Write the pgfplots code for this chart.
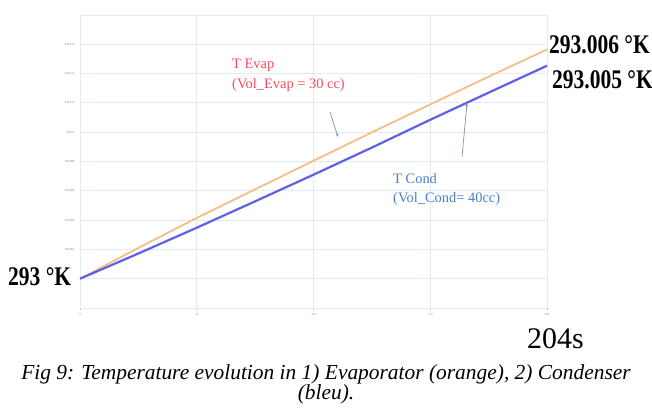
\documentclass[border=0pt]{standalone}
\usepackage{fontspec}
\setmainfont{Liberation Serif}
\usepackage{pgfplots}
\pgfplotsset{compat=1.18}
\usetikzlibrary{arrows.meta}
\definecolor{evap}{RGB}{244,190,135}
\definecolor{cond}{RGB}{95,95,232}
\definecolor{gridc}{RGB}{226,234,244}
\definecolor{evaptxt}{RGB}{250,75,95}
\definecolor{condtxt}{RGB}{70,130,205}
\definecolor{arrowc}{RGB}{125,145,175}

% y values are offsets from 293 K, in mK
\pgfplotstableread{
t     dT
0     0
25.5  2.10
51    4.15
76.5  6.10
102   8.05
127.5 9.99
153   11.90
178.5 13.79
204   15.65
}\evaptable
\pgfplotstableread{
t     dT
0     0
25.5  1.72
51    3.48
76.5  5.28
102   7.10
127.5 8.95
153   10.85
178.5 12.70
204   14.54
}\condtable

\begin{document}
\begin{tikzpicture}[x=1bp,y=1bp]
\path[use as bounding box] (0,0) rectangle (652,409);
\begin{axis}[
  at={(80bp,101bp)}, anchor=south west,
  scale only axis, width=467bp, height=293bp,
  xmin=0, xmax=204, ymin=-2, ymax=18,
  xtick={0,51,102,153,204},
  xticklabels={0,51,102,153,204},
  ytick={-2,0,2,4,6,8,10,12,14,16,18},
  yticklabels={,,293.002,293.004,293.006,293.008,293.01,293.012,293.014,293.016,},
  grid=major,
  grid style={draw=gridc, line width=0.9bp},
  axis line style={draw=gridc, line width=0.9bp},
  axis x line*=bottom, axis y line*=left,
  tick align=outside,
  major tick length=2bp,
  xtick style={draw=gray!60, line width=0.4bp},
  ytick style={draw=none},
  tick label style={font=\fontsize{3}{3}\selectfont, text=gray},
  clip=false,
]
\addplot[color=evap, line width=1.8bp] table[x=t,y=dT] {\evaptable};
\addplot[color=cond, line width=2.2bp] table[x=t,y=dT] {\condtable};
\end{axis}

% annotations
\node[anchor=base west, text=evaptxt, font=\fontsize{14.5}{16}\selectfont, inner sep=0pt] at (232,341) {T Evap};
\node[anchor=base west, text=evaptxt, font=\fontsize{14.5}{16}\selectfont, inner sep=0pt] at (232,321) {(Vol\_Evap = 30 cc)};
\node[anchor=base west, text=condtxt, font=\fontsize{14.5}{16}\selectfont, inner sep=0pt] at (393,226) {T Cond};
\node[anchor=base west, text=condtxt, font=\fontsize{14.5}{16}\selectfont, inner sep=0pt] at (393,207) {(Vol\_Cond= 40cc)};
\draw[arrowc, line width=0.7bp, -{Stealth[length=4bp,width=3bp]}] (330,297) -- (338,272);
\draw[arrowc, line width=0.7bp, -{Stealth[length=4bp,width=3bp]}] (462,252) -- (467,306);

% value labels
\node[anchor=base west, inner sep=0pt, xscale=0.8, font=\fontsize{27}{27}\selectfont\bfseries] at (8,124) {293 °K};
\node[anchor=base west, inner sep=0pt, xscale=0.8, font=\fontsize{27}{27}\selectfont\bfseries] at (549,356) {293.006 °K};
\node[anchor=base west, inner sep=0pt, xscale=0.8, font=\fontsize{27}{27}\selectfont\bfseries] at (552,321) {293.005 °K};
\node[anchor=base west, inner sep=0pt, font=\fontsize{30}{30}\selectfont] at (527,61) {204s};

% caption
\node[anchor=base, inner sep=0pt, font=\fontsize{21.5}{21.5}\selectfont\itshape] at (326,30) {Fig 9: Temperature evolution in 1) Evaporator (orange), 2) Condenser};
\node[anchor=base, inner sep=0pt, font=\fontsize{21.5}{21.5}\selectfont\itshape] at (326,10) {(bleu).};
\end{tikzpicture}
\end{document}
